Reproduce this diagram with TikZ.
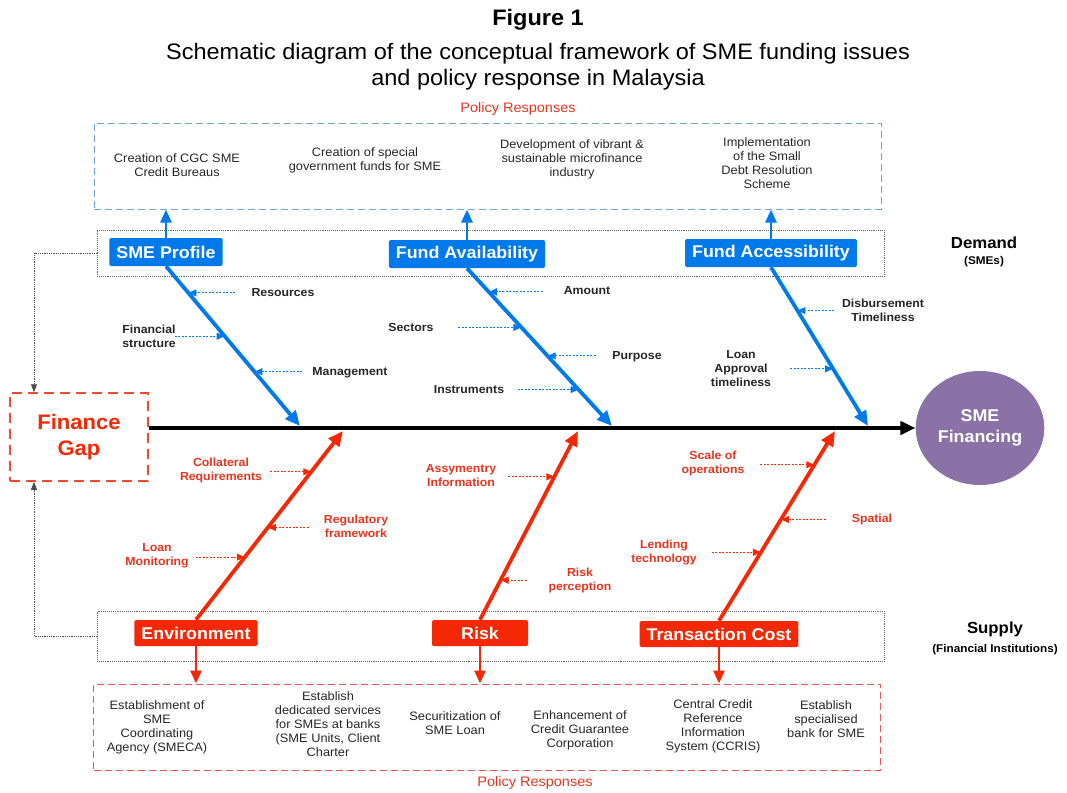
\documentclass[tikz,border=0pt]{standalone}
\usepackage{fontspec}
\setmainfont{Liberation Sans}[FakeStretch=1.05]
\usetikzlibrary{arrows.meta,shapes.geometric}

\definecolor{smeblue}{RGB}{0,122,235}
\definecolor{smered}{RGB}{245,40,5}
\definecolor{labred}{RGB}{232,52,30}
\definecolor{polblue}{RGB}{110,165,220}
\definecolor{polred}{RGB}{238,85,85}
\definecolor{finpurple}{RGB}{139,114,166}

\begin{document}
\begin{tikzpicture}[x=1pt, y=-1pt,
  band/.style={draw=black!60, densely dotted, line width=0.9pt, minimum width=787pt},
  polbox/.style={dash pattern=on 7pt off 4pt, line width=1pt, minimum width=787pt, minimum height=86pt},
  poltxt/.style={font=\fontsize{12.2}{14}\selectfont, align=center, text=black!85},
  bluebox/.style={fill=smeblue, text=white, font=\fontsize{17}{19}\selectfont\bfseries, rounded corners=1.5pt, minimum height=28pt, inner xsep=7pt},
  redbox/.style={fill=smered, text=white, font=\fontsize{17}{19}\selectfont\bfseries, rounded corners=1.5pt, minimum height=26pt, inner xsep=7pt},
  blab/.style={font=\fontsize{11.7}{14}\selectfont\bfseries, align=center, text=black!85},
  rlab/.style={font=\fontsize{11.7}{14}\selectfont\bfseries, align=center, text=labred},
  bone/.style={line width=3.8pt, -{Triangle[length=15pt,width=13pt]}},
  upar/.style={line width=2.6pt, -{Triangle[length=13pt,width=11pt]}},
  sub/.style={line width=1pt, dash pattern=on 2pt off 1.5pt, -{Triangle[length=8pt,width=7pt]}},
  fb/.style={draw=black!70, densely dotted, line width=0.8pt, -{Triangle[length=8pt,width=6pt]}}
]
\useasboundingbox (0,0) rectangle (1067,792);

% title
\node (fig) at (538,20) {\fontsize{22.4}{26}\selectfont\bfseries Figure 1};
\node[align=center, font=\fontsize{22.4}{26}\selectfont] (title) at (538,67)
  {Schematic diagram of the conceptual framework of SME funding issues\\and policy response in Malaysia};

% policy responses (top)
\node[text=labred, font=\fontsize{13.8}{15}\selectfont] (ptop) at (518,109) {Policy Responses};
\node[polbox, draw=polblue] (top) at (487.5,166) {};
\node[poltxt] (p1) at (177,165) {Creation of CGC SME\\Credit Bureaus};
\node[poltxt] (p2) at (365,160) {Creation of special\\government funds for SME};
\node[poltxt] (p3) at (572,159) {Development of vibrant \&\\sustainable microfinance\\industry};
\node[poltxt] (p4) at (767,163) {Implementation\\of the Small\\Debt Resolution\\Scheme};

% demand / supply bands
\node[band, minimum height=46pt] (dem) at (490.5,253) {};
\node[band, minimum height=50pt] (sup) at (490.5,636) {};
\node[font=\fontsize{16}{18}\selectfont\bfseries] (demand) at (984,243) {Demand};
\node[font=\fontsize{11.2}{12}\selectfont\bfseries] (smes) at (984,262) {(SMEs)};
\node[font=\fontsize{16}{18}\selectfont\bfseries] (supply) at (995,629) {Supply};
\node[font=\fontsize{11.2}{12}\selectfont\bfseries] (fi) at (995,650) {(Financial Institutions)};

% head and tail
\node[draw=smered!85, dash pattern=on 10pt off 6pt, line width=1.5pt, minimum width=138pt, minimum height=88pt,
  align=center, text=smered, font=\fontsize{21}{26}\selectfont\bfseries] (gap) at (79,437) {Finance\\Gap};
\node[ellipse, fill=finpurple, minimum width=126pt, minimum height=114pt, align=center, text=white,
  font=\fontsize{17}{21}\selectfont\bfseries] (fin) at (980,428) {SME\\Financing};
\draw[line width=3.8pt, -{Triangle[length=15pt,width=13pt]}] (gap.east |- fin.west) -- (fin.west);

% feedback to finance gap
\draw[fb] (dem.west) -| ([xshift=-45pt]gap.north);
\draw[fb] (sup.west) -| ([xshift=-45pt]gap.south);

% spine ends of the bones
\coordinate (e1) at (300,426);
\coordinate (e2) at (612,426);
\coordinate (e3) at (868,426);
\coordinate (f1) at (343,431);
\coordinate (f2) at (578,431);
\coordinate (f3) at (835,431);

% demand bones
\node[bluebox] (sp) at (166,252) {SME Profile};
\node[bluebox] (fa) at (467,254) {Fund Availability};
\node[bluebox] (fc) at (771,253) {Fund Accessibility};
\draw[smeblue, bone] (sp.south) -- (e1);
\draw[smeblue, bone] (fa.south) -- (e2);
\draw[smeblue, bone] (fc.south) -- (e3);
\draw[smeblue, upar] (sp.north) -- (sp.north |- top.south);
\draw[smeblue, upar] (fa.north) -- (fa.north |- top.south);
\draw[smeblue, upar] (fc.north) -- (fc.north |- top.south);

\path (sp.south) -- (e1) coordinate[pos=0.167] (r1) coordinate[pos=0.438] (r2) coordinate[pos=0.66] (r3);
\path (fa.south) -- (e2) coordinate[pos=0.15] (a1) coordinate[pos=0.375] (a2) coordinate[pos=0.556] (a3) coordinate[pos=0.769] (a4);
\path (fc.south) -- (e3) coordinate[pos=0.273] (c1) coordinate[pos=0.64] (c2);

\node[blab] (lres) at (283,293) {Resources};
\node[blab] (lfin) at (149,336) {Financial\\structure};
\node[blab] (lman) at (350,373) {Management};
\node[blab] (lamo) at (587,291) {Amount};
\node[blab] (lsec) at (411,327) {Sectors};
\node[blab] (lpur) at (637,357) {Purpose};
\node[blab] (lins) at (469,390) {Instruments};
\node[blab] (ldis) at (883,310) {Disbursement\\Timeliness};
\node[blab] (lapp) at (741,369) {Loan\\Approval\\timeliness};
\draw[smeblue, sub] ([xshift=47pt]r1) -- (r1);
\draw[smeblue, sub] ([xshift=-50pt]r2) -- (r2);
\draw[smeblue, sub] ([xshift=48pt]r3) -- (r3);
\draw[smeblue, sub] ([xshift=54pt]a1) -- (a1);
\draw[smeblue, sub] ([xshift=-63pt]a2) -- (a2);
\draw[smeblue, sub] ([xshift=48pt]a3) -- (a3);
\draw[smeblue, sub] ([xshift=-61pt]a4) -- (a4);
\draw[smeblue, sub] ([xshift=37pt]c1) -- (c1);
\draw[smeblue, sub] ([xshift=-43pt]c2) -- (c2);

% supply bones
\node[redbox] (env) at (196,633) {Environment};
\node[redbox, minimum width=96pt] (risk) at (480,633) {Risk};
\node[redbox] (tc) at (719,634) {Transaction Cost};
\draw[smered, bone] (env.north) -- (f1);
\draw[smered, bone] (risk.north) -- (f2);
\draw[smered, bone] (tc.north) -- (f3);

\path (env.north) -- (f1) coordinate[pos=0.784] (n1) coordinate[pos=0.489] (n2) coordinate[pos=0.332] (n3);
\path (risk.north) -- (f2) coordinate[pos=0.758] (k1) coordinate[pos=0.21] (k2);
\path (tc.north) -- (f3) coordinate[pos=0.822] (t1) coordinate[pos=0.534] (t2) coordinate[pos=0.361] (t3);

\node[rlab] (lcol) at (221,470) {Collateral\\Requirements};
\node[rlab] (lreg) at (356,526) {Regulatory\\framework};
\node[rlab] (lmon) at (157,556) {Loan\\Monitoring};
\node[rlab] (lasy) at (461,476) {Assymentry\\Information};
\node[rlab] (lper) at (580,580) {Risk\\perception};
\node[rlab] (lsca) at (713,463) {Scale of\\operations};
\node[rlab] (lspa) at (872,519) {Spatial};
\node[rlab] (llen) at (664,552) {Lending\\technology};
\draw[smered, sub] ([xshift=-41pt]n1) -- (n1);
\draw[smered, sub] ([xshift=41pt]n2) -- (n2);
\draw[smered, sub] ([xshift=-49pt]n3) -- (n3);
\draw[smered, sub] ([xshift=-46pt]k1) -- (k1);
\draw[smered, sub] ([xshift=26pt]k2) -- (k2);
\draw[smered, sub] ([xshift=-54pt]t1) -- (t1);
\draw[smered, sub] ([xshift=45pt]t2) -- (t2);
\draw[smered, sub] ([xshift=-49pt]t3) -- (t3);

% policy responses (bottom)
\node[polbox, draw=polred] (bot) at (487,727) {};
\draw[smered, upar] (env.south) -- (env.south |- bot.north);
\draw[smered, upar] (risk.south) -- (risk.south |- bot.north);
\draw[smered, upar] (tc.south) -- (tc.south |- bot.north);
\node[poltxt] (q1) at (157,727) {Establishment of\\SME\\Coordinating\\Agency (SMECA)};
\node[poltxt] (q2) at (328,724) {Establish\\dedicated services\\for SMEs at banks\\(SME Units, Client\\Charter};
\node[poltxt] (q3) at (455,723) {Securitization of\\SME Loan};
\node[poltxt] (q4) at (580,730) {Enhancement of\\Credit Guarantee\\Corporation};
\node[poltxt] (q5) at (713,726) {Central Credit\\Reference\\Information\\System (CCRIS)};
\node[poltxt] (q6) at (826,719) {Establish\\specialised\\bank for SME};
\node[text=labred, font=\fontsize{13.8}{15}\selectfont] (pbot) at (535,783) {Policy Responses};

\end{tikzpicture}
\end{document}
